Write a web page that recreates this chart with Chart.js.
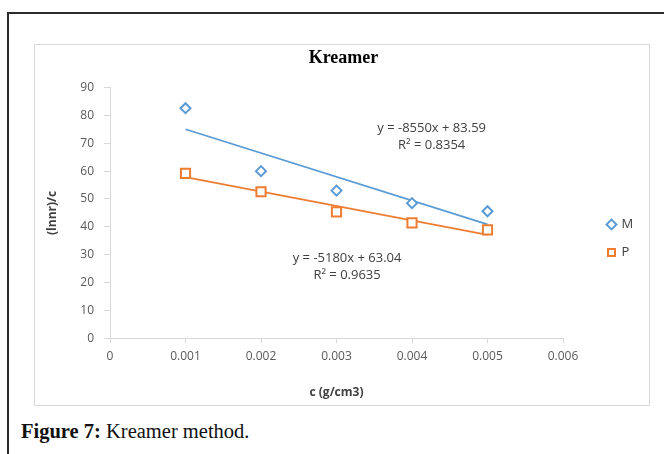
<!DOCTYPE html>
<html>
<head>
<meta charset="utf-8">
<script src="https://cdn.jsdelivr.net/npm/chart.js@4/dist/chart.umd.min.js"></script>
<style>
  html, body { margin: 0; padding: 0; background: #fff; overflow: hidden; }
  body { width: 664px; height: 454px; position: relative; }
  .frame {
    position: absolute; left: 7px; top: 12px; width: 700px; height: 500px;
    border-left: 2px solid #2b2b2b; border-top: 2px solid #2b2b2b;
  }
  .box {
    position: absolute; left: 34px; top: 44px; width: 614px; height: 360px;
    border: 1px solid #d9d9d9; background: #fff;
  }
  .box canvas { position: absolute; left: 0; top: 0; }
  .caption {
    position: absolute; left: 21px; top: 420px;
    font-family: "Liberation Serif", "Times New Roman", serif; font-size: 20.5px; color: #111;
  }
</style>
</head>
<body>
<div class="frame"></div>
<div class="box"><canvas id="kreamer" width="614" height="360"></canvas></div>
<div class="caption"><b>Figure 7:</b> Kreamer method.</div>
<script>
// concentration c (g/cm3)
const conc = [0.001, 0.002, 0.003, 0.004, 0.005];
// (ln nr)/c for each sample
const valuesM = [82.6, 60.0, 53.0, 48.5, 45.6];
const valuesP = [59.2, 52.6, 45.4, 41.4, 38.9];

// linear fits: [slope, intercept, R²]
const fitM = [-8550, 83.59, 0.8354];
const fitP = [-5180, 63.04, 0.9635];

const xTicks = ['0', '0.001', '0.002', '0.003', '0.004', '0.005', '0.006'];
const yTicks = [0, 10, 20, 30, 40, 50, 60, 70, 80, 90];

const blue = '#5b9bd5';
const orange = '#ed7d31';
const tickFont = { family: '"Open Sans", sans-serif', size: 12 };
const titleFont = { family: '"Open Sans", sans-serif', size: 12, weight: 'bold' };

const pts = (xs, ys) => xs.map((x, i) => ({ x: x, y: ys[i] }));
const fitLine = (f) => [conc[0], conc[conc.length - 1]].map(x => ({ x: x, y: f[0] * x + f[1] }));

// trendline equation labels, anchored in data units
const eqLabels = [
  { fit: fitM, x: 0.00426, y: 75.5 },
  { fit: fitP, x: 0.00314, y: 28.7 }
];

const equationText = {
  id: 'equationText',
  afterDatasetsDraw(chart) {
    const ctx = chart.ctx;
    const xs = chart.scales.x, ys = chart.scales.y;
    ctx.save();
    ctx.font = '13px "Open Sans", sans-serif';
    ctx.fillStyle = '#404040';
    ctx.textAlign = 'center';
    ctx.textBaseline = 'middle';
    eqLabels.forEach(l => {
      const px = xs.getPixelForValue(l.x);
      const py = ys.getPixelForValue(l.y);
      const sign = l.fit[1] < 0 ? '-' : '+';
      ctx.fillText('y = ' + l.fit[0] + 'x ' + sign + ' ' + Math.abs(l.fit[1]).toFixed(2), px, py);
      ctx.fillText('R² = ' + l.fit[2].toFixed(4), px, py + 17);
    });
    ctx.restore();
  }
};

// push the legend away from the plot, into the empty right margin
const legendShift = {
  id: 'legendShift',
  afterLayout(chart) {
    chart.legend.left += 30;
    chart.legend.right += 30;
  }
};

new Chart(document.getElementById('kreamer'), {
  type: 'scatter',
  data: {
    datasets: [
      {
        label: 'M', data: pts(conc, valuesM),
        pointStyle: 'rectRot', pointRadius: 5, pointHoverRadius: 5,
        borderColor: blue, backgroundColor: '#fff', borderWidth: 2, pointBorderWidth: 2
      },
      {
        label: 'P', data: pts(conc, valuesP),
        pointStyle: 'rect', pointRadius: 6.5, pointHoverRadius: 6.5,
        borderColor: orange, backgroundColor: '#fff', borderWidth: 2, pointBorderWidth: 2
      },
      {
        label: 'trendM', data: fitLine(fitM), showLine: true, pointRadius: 0,
        borderColor: blue, borderWidth: 1.8, order: 2
      },
      {
        label: 'trendP', data: fitLine(fitP), showLine: true, pointRadius: 0,
        borderColor: orange, borderWidth: 1.8, order: 2
      }
    ]
  },
  options: {
    responsive: false,
    animation: false,
    layout: { padding: { left: 10, right: 7, top: 0, bottom: 5 } },
    plugins: {
      tooltip: { enabled: false },
      title: {
        display: true, text: 'Kreamer', color: '#000',
        font: { family: '"Liberation Serif", serif', size: 18, weight: 'bold' },
        padding: { top: 3, bottom: 18 }
      },
      legend: {
        position: 'right',
        title: { display: true, text: ' ', font: { size: 10 }, padding: 10 },
        labels: {
          filter: item => item.text.length === 1,
          usePointStyle: true, boxWidth: 7, boxHeight: 7, padding: 15,
          color: '#404040', font: { family: '"Open Sans", sans-serif', size: 13 }
        }
      }
    },
    scales: {
      x: {
        type: 'linear', min: 0, max: 0.006,
        afterBuildTicks: s => { s.ticks = xTicks.map(t => ({ value: Number(t) })); },
        // keep the plot's right edge clear of the legend
        afterFit: s => { s.paddingRight = 86; },
        ticks: { callback: (v, i) => xTicks[i], color: '#595959', padding: 6, font: tickFont },
        grid: { drawOnChartArea: false, color: '#d9d9d9', tickLength: 5 },
        border: { color: '#d9d9d9' },
        title: {
          display: true, text: 'c (g/cm3)', color: '#404040',
          padding: { top: 16, bottom: 0 }, font: titleFont
        }
      },
      y: {
        min: 0, max: 90,
        afterBuildTicks: s => { s.ticks = yTicks.map(v => ({ value: v })); },
        afterFit: s => { s.width = 65; },
        ticks: { color: '#595959', padding: 10, font: tickFont },
        grid: { drawOnChartArea: false, color: '#d9d9d9', tickLength: 6 },
        border: { color: '#d9d9d9' },
        title: {
          display: true, text: '(lnnr)/c', color: '#404040',
          padding: { top: 0, bottom: 10 }, font: titleFont
        }
      }
    }
  },
  plugins: [equationText, legendShift]
});
</script>
</body>
</html>
